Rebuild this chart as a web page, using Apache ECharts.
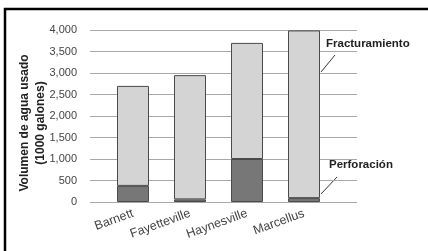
<!DOCTYPE html>
<html>
<head>
<meta charset="utf-8"/>
<title>Volumen de agua usado</title>
<script src="https://cdn.jsdelivr.net/npm/echarts@6/dist/echarts.min.js"></script>
</head>
<body style="margin:0;background:#fff">
<div id="chart" style="width:428px;height:251px"></div>
<script type="text/javascript">
var categories = ['Barnett', 'Fayetteville', 'Haynesville', 'Marcellus'];
var perforacion = [375, 60, 1000, 90];
var fracturamiento = [2325, 2890, 2700, 3900];
var yTicks = [0, 4000, 500];

var chart = echarts.init(document.getElementById('chart'));
var font = 'Liberation Sans, Arial, sans-serif';

var option = {
  animation: false,
  grid: [
    {left: 90, right: 71, top: 30, bottom: 49},
    {left: 104.5, right: 95.5, top: 30, bottom: 49}
  ],
  xAxis: [
    {gridIndex: 0, type: 'value', show: false},
    {
      gridIndex: 1, type: 'category', data: categories,
      axisLine: {show: false}, axisTick: {show: false},
      axisLabel: {rotate: 20, margin: 11, color: '#444', fontSize: 12.5, fontFamily: font}
    }
  ],
  yAxis: [
    {
      gridIndex: 0, type: 'value', min: yTicks[0], max: yTicks[1], interval: yTicks[2],
      axisLine: {show: false}, axisTick: {show: false},
      axisLabel: {
        margin: 13, color: '#444', fontSize: 11, fontFamily: font,
        formatter: function (v) { return v.toLocaleString('en-US'); }
      },
      splitLine: {lineStyle: {color: '#a8a8a8', width: 1}}
    },
    {
      gridIndex: 1, type: 'value', min: yTicks[0], max: yTicks[1], interval: yTicks[2],
      show: false, splitLine: {show: false}
    }
  ],
  series: [
    {
      name: 'Perforación', type: 'bar', stack: 'agua', xAxisIndex: 1, yAxisIndex: 1,
      barWidth: 32, data: perforacion,
      itemStyle: {color: '#777777', borderColor: '#4a4a4a', borderWidth: 1}
    },
    {
      name: 'Fracturamiento', type: 'bar', stack: 'agua', xAxisIndex: 1, yAxisIndex: 1,
      barWidth: 32, data: fracturamiento,
      itemStyle: {color: '#d4d4d4', borderColor: '#4a4a4a', borderWidth: 1}
    }
  ],
  graphic: [
    {type: 'line', shape: {x1: 4, y1: 9, x2: 428, y2: 9}, style: {stroke: '#000', lineWidth: 2.5}},
    {type: 'line', shape: {x1: 5, y1: 8, x2: 5, y2: 251}, style: {stroke: '#000', lineWidth: 2.5}},
    {
      type: 'text', x: 25, y: 123, rotation: Math.PI / 2,
      style: {text: 'Volumen de agua usado', font: 'bold 12px ' + font, fill: '#222',
              textAlign: 'center', textVerticalAlign: 'middle'}
    },
    {
      type: 'text', x: 41, y: 123, rotation: Math.PI / 2,
      style: {text: '(1000 galones)', font: 'bold 12px ' + font, fill: '#222',
              textAlign: 'center', textVerticalAlign: 'middle'}
    },
    {
      type: 'text', x: 326, y: 44,
      style: {text: 'Fracturamiento', font: 'bold 11.5px ' + font, fill: '#222',
              textAlign: 'left', textVerticalAlign: 'middle'}
    },
    {type: 'line', shape: {x1: 321, y1: 72, x2: 335, y2: 55}, style: {stroke: '#333', lineWidth: 1}},
    {
      type: 'text', x: 329, y: 165,
      style: {text: 'Perforación', font: 'bold 11.5px ' + font, fill: '#222',
              textAlign: 'left', textVerticalAlign: 'middle'}
    },
    {type: 'line', shape: {x1: 321, y1: 194, x2: 337, y2: 177}, style: {stroke: '#333', lineWidth: 1}}
  ]
};
chart.setOption(option);
</script>
</body>
</html>
